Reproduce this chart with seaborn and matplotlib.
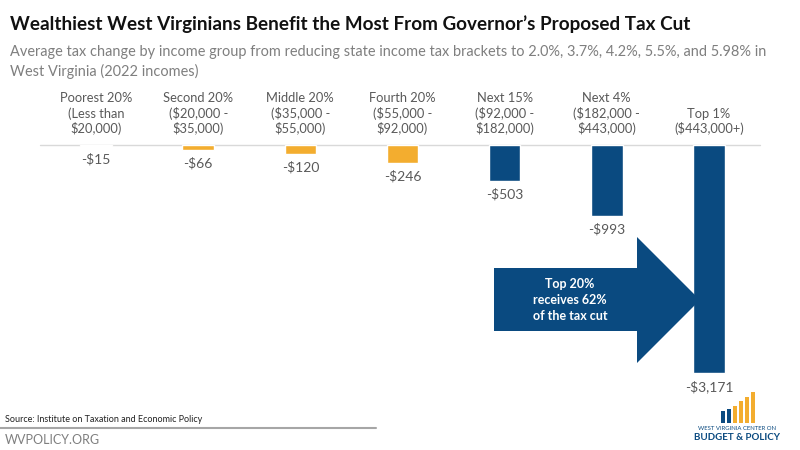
import matplotlib
matplotlib.use("Agg")
import matplotlib.pyplot as plt
from matplotlib.patches import Polygon, Rectangle
from matplotlib.lines import Line2D
import seaborn as sns
import pandas as pd

# ---- data ----
groups = ["Poorest 20%\n(Less than\n$20,000)",
          "Second 20%\n($20,000 -\n$35,000)",
          "Middle 20%\n($35,000 -\n$55,000)",
          "Fourth 20%\n($55,000 -\n$92,000)",
          "Next 15%\n($92,000 -\n$182,000)",
          "Next 4%\n($182,000 -\n$443,000)",
          "Top 1%\n($443,000+)"]
tax_change = [-15, -66, -120, -246, -503, -993, -3171]
is_top20 = [False, False, False, False, True, True, True]

GOLD = "#F3AD2F"
NAVY = "#0A4A80"
GRAY_TXT = "#595959"

sns.set_theme(style="white")
plt.rcParams["font.family"] = ["Lato", "DejaVu Sans"]

df = pd.DataFrame({"group": groups, "value": tax_change,
                   "color": [NAVY if t else GOLD for t in is_top20]})

fig = plt.figure(figsize=(8, 4.5), dpi=100)
W, H = 800, 450

def fx(px):
    return px / W

def fy(py):
    return 1 - py / H

# axes: x 45..760 px, y 145..400 px
ax = fig.add_axes([fx(45), fy(400), fx(760) - fx(45), fy(145) - fy(400)])
sns.barplot(data=df, x="group", y="value", hue="group",
            palette=dict(zip(df["group"], df["color"])),
            width=0.31, legend=False, ax=ax, saturation=1)
ax.set_xlim(-0.5, len(groups) - 0.5)
ymin = -(400 - 145) / (228 / 3171)
ax.set_ylim(ymin, 0)
ax.axhline(0, color="#D9D9D9", lw=1, xmin=-0.007, xmax=1.0, clip_on=False, zorder=0)

for cont, v in zip(ax.containers, tax_change):
    ax.bar_label(cont, labels=[f"-${abs(v):,}"], padding=5,
                 fontsize=10, color=GRAY_TXT)

ax.xaxis.tick_top()
ax.set_xticks(range(len(groups)))
ax.set_xticklabels(groups, fontsize=9.3, color=GRAY_TXT, linespacing=1.25)
ax.tick_params(axis="x", length=0, pad=7)
ax.set_yticks([])
ax.set_xlabel("")
ax.set_ylabel("")
for s in ax.spines.values():
    s.set_visible(False)

# ---- title & subtitle ----
fig.text(fx(10), fy(24), "Wealthiest West Virginians Benefit the Most From Governor\u2019s Proposed Tax Cut",
         fontsize=13.6, fontweight="bold", color="#111111", va="center", ha="left")
fig.text(fx(10), fy(52), "Average tax change by income group from reducing state income tax brackets to 2.0%, 3.7%, 4.2%, 5.5%, and 5.98% in",
         fontsize=10.45, color="#7F7F7F", va="center", ha="left")
fig.text(fx(10), fy(71), "West Virginia (2022 incomes)",
         fontsize=10.45, color="#7F7F7F", va="center", ha="left")

# ---- arrow annotation ----
arrow_px = [(494, 268), (637, 268), (637, 237), (700, 300), (637, 363), (637, 331), (494, 331)]
fig.patches.append(Polygon([(fx(x), fy(y)) for x, y in arrow_px], closed=True,
                           transform=fig.transFigure, facecolor=NAVY, edgecolor="none"))
fig.text(fx(570), fy(300), "Top 20%\nreceives 62%\nof the tax cut", color="white",
         fontsize=9, fontweight="bold", ha="center", va="center", linespacing=1.45)

# ---- footer ----
fig.text(fx(5), fy(420), "Source: Institute on Taxation and Economic Policy",
         fontsize=6.5, color="#222222", va="center", ha="left")
fig.lines.append(Line2D([fx(0), fx(376)], [fy(428), fy(428)], transform=fig.transFigure,
                        color="#A6A6A6", lw=1.5))
fig.text(fx(5), fy(440), "WVPOLICY.ORG", fontsize=9, color="#7F7F7F", va="center", ha="left")

# ---- logo ----
logo_bars = [(721, 12, NAVY), (727, 14, NAVY), (733, 17, GOLD), (739, 22, GOLD), (745, 26, GOLD), (751, 31, GOLD)]
for x, h, c in logo_bars:
    fig.patches.append(Rectangle((fx(x), fy(423)), fx(4), fy(423 - h) - fy(423),
                                 transform=fig.transFigure, facecolor=c, edgecolor="none"))
fig.text(fx(737), fy(428), "WEST VIRGINIA CENTER ON", fontsize=4.3, color=NAVY,
         ha="center", va="center")
fig.text(fx(737), fy(437), "BUDGET & POLICY", fontsize=7, color=NAVY, fontweight="bold",
         ha="center", va="center")

fig.savefig("out.png", dpi=100)
